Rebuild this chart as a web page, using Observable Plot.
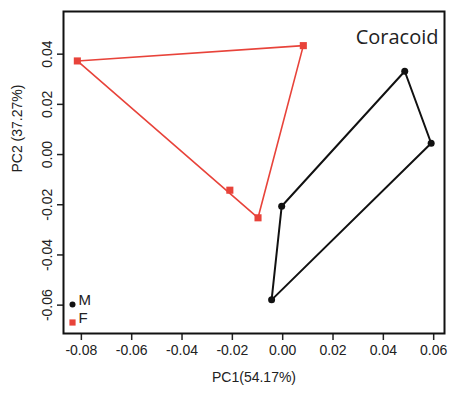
<!DOCTYPE html>
<html><head><meta charset="utf-8">
<script src="https://cdn.jsdelivr.net/npm/d3@7"></script>
<script src="https://cdn.jsdelivr.net/npm/@observablehq/plot@0.6"></script>
<style>
html,body{margin:0;padding:0;background:#fff;}
#chart{width:466px;height:394px;}
</style></head>
<body><div id="chart"></div>
<script>
const groups = ["M","M","M","M","F","F","F","F"];
const pc1 = [0.0485, 0.0590, -0.0004, -0.0044, -0.0816, 0.0082, -0.0098, -0.0210];
const pc2 = [0.0332, 0.0045, -0.0206, -0.0579, 0.0373, 0.0434, -0.0252, -0.0142];
const xTicks = [-0.08, -0.06, -0.04, -0.02, 0.00, 0.02, 0.04, 0.06];
const yTicks = [-0.06, -0.04, -0.02, 0.00, 0.02, 0.04];
const legendLabels = ["M", "F"];
const groupColors = {M: "#111111", F: "#e8433a"};
const title = "Coracoid";
const xLabel = "PC1(54.17%)";
const yLabel = "PC2 (37.27%)";

const data = groups.map((g, i) => ({group: g, x: pc1[i], y: pc2[i]}));
const fmt = d => d.toFixed(2);

const chart = Plot.plot({
  width: 466,
  height: 394,
  marginLeft: 63,
  marginTop: 11,
  marginRight: 22,
  marginBottom: 61,
  style: {fontFamily: "'Liberation Sans', Arial, sans-serif", fontSize: "14px", color: "#222", background: "#fff"},
  x: {domain: [-0.0871, 0.0643]},
  y: {domain: [-0.0713, 0.057]},
  marks: [
    Plot.axisX({ticks: xTicks, tickFormat: fmt, tickSize: 7, tickPadding: 5, label: null, fontSize: 14, strokeWidth: 1.5}),
    Plot.axisY({ticks: yTicks, tickFormat: fmt, tickSize: 6, tickPadding: 6, tickRotate: -90, label: null, fontSize: 14, strokeWidth: 1.5}),
    Plot.hull(data.filter(d => d.group === "F"), {x: "x", y: "y", stroke: groupColors.F, strokeWidth: 1.6}),
    Plot.hull(data.filter(d => d.group === "M"), {x: "x", y: "y", stroke: groupColors.M, strokeWidth: 2}),
    Plot.dot(data.filter(d => d.group === "F"), {x: "x", y: "y", symbol: "square", r: 4, fill: groupColors.F}),
    Plot.dot(data.filter(d => d.group === "M"), {x: "x", y: "y", symbol: "circle", r: 3.5, fill: groupColors.M}),
    Plot.frame({stroke: "#111", strokeWidth: 2}),
    Plot.text([title], {frameAnchor: "top-right", dx: -6, dy: 18, fontSize: 20, fill: "#222", fontFamily: "'Open Sans', sans-serif", textAnchor: "end"}),
    Plot.dot([legendLabels[0]], {frameAnchor: "bottom-left", dx: 9, dy: -29, r: 3, fill: groupColors.M}),
    Plot.dot([legendLabels[1]], {frameAnchor: "bottom-left", dx: 9, dy: -11, r: 3.5, symbol: "square", fill: groupColors.F}),
    Plot.text([legendLabels[0]], {frameAnchor: "bottom-left", dx: 15, dy: -29, textAnchor: "start", fontSize: 15, fill: "#222"}),
    Plot.text([legendLabels[1]], {frameAnchor: "bottom-left", dx: 15, dy: -11, textAnchor: "start", fontSize: 15, fill: "#222"}),
    Plot.text([xLabel], {frameAnchor: "bottom", dy: 48, fontSize: 14, fill: "#222"}),
    Plot.text([yLabel], {frameAnchor: "left", dx: -46, rotate: -90, fontSize: 14, fill: "#222"})
  ]
});
document.getElementById("chart").appendChild(chart);
</script>
</body></html>
